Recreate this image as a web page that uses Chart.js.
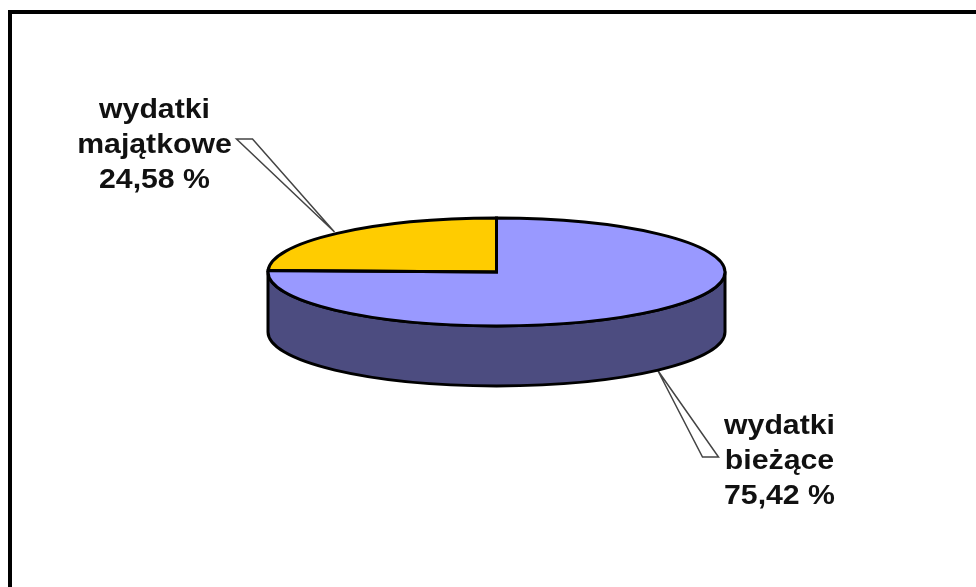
<!DOCTYPE html>
<html>
<head>
<meta charset="utf-8">
<style>
html,body{margin:0;padding:0;background:#fff;overflow:hidden}
#wrap{position:absolute;left:0;top:0;width:976px;height:587px}
canvas{display:block;filter:blur(0.55px)}
</style>
<script src="https://cdn.jsdelivr.net/npm/chart.js@4/dist/chart.umd.min.js"></script>
</head>
<body>
<div id="wrap"><canvas id="c" width="976" height="587"></canvas></div>
<script>
const categories = ["wydatki bieżące", "wydatki majątkowe"];
const values = [75.42, 24.58];
const sliceColors = ["#9999FF", "#FFCC00"];
const sideColor = "#4C4C80";
const labelLines = [
  ["wydatki", "bieżące", "75,42 %"],
  ["wydatki", "majątkowe", "24,58 %"]
];

const TILT = 54 / 229;      // vertical squash of the pie disc
const DEPTH = 60;           // height of the cylinder side
const PEN = 3;

// label and callout placement, relative to the pie centre
const callouts = [
  { tip: [161, 98], a: [206, 185], b: [222, 185], text: [283, 162], anchor: 0 },
  { tip: [-162, -40], a: [-260, -133], b: [-244, -133], text: [-342, -154], anchor: 1 }
];

function squash(ctx, x, y) {
  ctx.translate(x, y);
  ctx.scale(1, TILT);
  ctx.translate(-x, -y);
}

const pie3d = {
  id: "pie3d",
  beforeDraw(chart) {
    const ctx = chart.ctx;
    ctx.save();
    ctx.fillStyle = "#fff";
    ctx.fillRect(0, 0, chart.width, chart.height);
    ctx.fillStyle = "#000";
    ctx.fillRect(8, 10, chart.width - 8, 4);
    ctx.fillRect(8, 10, 4, chart.height - 10);
    ctx.restore();
  },
  beforeDatasetsDraw(chart) {
    const ctx = chart.ctx;
    const arc = chart.getDatasetMeta(0).data[0];
    const { x, y, outerRadius: R } = arc;

    // callout wedges
    ctx.save();
    ctx.lineWidth = 1.5;
    ctx.strokeStyle = "#444";
    ctx.fillStyle = "#fff";
    callouts.forEach(c => {
      ctx.beginPath();
      ctx.moveTo(x + c.tip[0], y + c.tip[1]);
      ctx.lineTo(x + c.a[0], y + c.a[1]);
      ctx.lineTo(x + c.b[0], y + c.b[1]);
      ctx.closePath();
      ctx.fill();
      ctx.stroke();
    });
    ctx.restore();

    // cylinder side
    ctx.save();
    ctx.beginPath();
    ctx.ellipse(x, y + DEPTH, R, R * TILT, 0, Math.PI, 0, true);
    ctx.lineTo(x + R, y);
    ctx.ellipse(x, y, R, R * TILT, 0, 0, Math.PI, false);
    ctx.closePath();
    ctx.fillStyle = sideColor;
    ctx.fill();
    ctx.lineWidth = PEN;
    ctx.strokeStyle = "#000";
    ctx.lineJoin = "round";
    ctx.stroke();
    ctx.restore();

    // the library's arcs are drawn through this flattening
    ctx.save();
    squash(ctx, x, y);
  },
  afterDatasetsDraw(chart) {
    const ctx = chart.ctx;
    ctx.restore();
    const arcs = chart.getDatasetMeta(0).data;

    // slice outlines with an even pen
    ctx.save();
    ctx.lineWidth = PEN;
    ctx.strokeStyle = "#000";
    ctx.lineJoin = "miter";
    arcs.forEach(a => {
      ctx.save();
      squash(ctx, a.x, a.y);
      ctx.beginPath();
      ctx.moveTo(a.x, a.y);
      ctx.arc(a.x, a.y, a.outerRadius, a.startAngle, a.endAngle);
      ctx.closePath();
      ctx.restore();
      ctx.stroke();
    });
    ctx.restore();

    // labels
    const { x, y } = arcs[0];
    ctx.save();
    ctx.fillStyle = "#111";
    ctx.font = 'bold 27px "Liberation Sans", Arial, sans-serif';
    ctx.textAlign = "center";
    ctx.textBaseline = "alphabetic";
    callouts.forEach(c => {
      labelLines[c.anchor].forEach((line, i) => {
        ctx.save();
        ctx.translate(x + c.text[0], y + c.text[1] + i * 35);
        ctx.scale(1.12, 1);
        ctx.fillText(line, 0, 0);
        ctx.restore();
      });
    });
    ctx.restore();
  }
};

new Chart(document.getElementById("c"), {
  type: "pie",
  data: {
    labels: categories,
    datasets: [{
      data: values,
      backgroundColor: sliceColors,
      borderWidth: 0
    }]
  },
  options: {
    responsive: false,
    animation: false,
    layout: { padding: { left: 268, right: 251, top: 43, bottom: 86 } },
    plugins: { legend: { display: false }, tooltip: { enabled: false }, title: { display: false } }
  },
  plugins: [pie3d]
});
</script>
</body>
</html>
